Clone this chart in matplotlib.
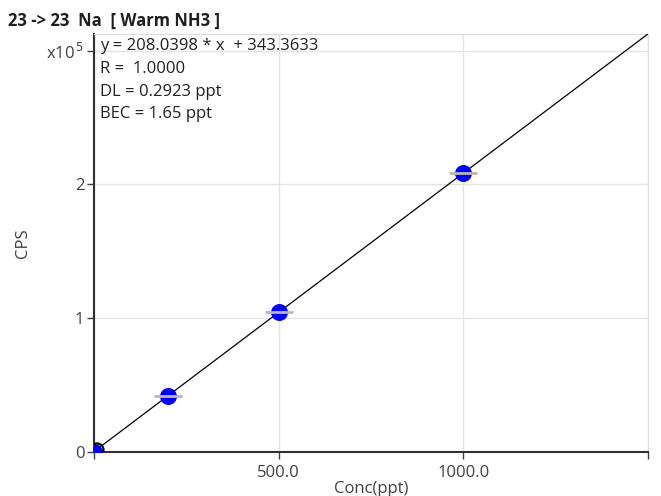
import numpy as np
import matplotlib.pyplot as plt

plt.rcParams['font.family'] = ['Open Sans', 'DejaVu Sans']

# calibration standards (ppt) and counts
conc = [0, 200, 500, 1000]
cps = [343, 41900, 104400, 208400]
slope = 208.0398
intercept = 343.3633
fit_text = ['y = 208.0398 * x  + 343.3633', 'R =  1.0000', 'DL = 0.2923 ppt', 'BEC = 1.65 ppt']
x_ticks = [0, 500, 1000, 1500]
x_ticklabels = ['', '500.0', '1000.0', '']
y_ticks = [0, 1e5, 2e5, 3e5]
y_ticklabels = ['0', '1', '2', 'x10$^{\\,5}$']

fig = plt.figure(figsize=(6.61, 4.96), dpi=100)
ax = fig.add_axes([0.1422, 0.0887, 0.838, 0.8428])

xmax = 1500
ymax = slope * xmax + intercept
ax.set_xlim(0, xmax)
ax.set_ylim(0, ymax)

ax.grid(True, color='#e4e4e4', linewidth=1, zorder=0)
ax.set_axisbelow(True)

xs = np.array([0, xmax])
ax.plot(xs, slope * xs + intercept, color='black', linewidth=0.9, zorder=3)

ax.scatter(conc, cps, s=125, color='#0000ff', zorder=4, clip_on=True)
ax.scatter(conc[1:], cps[1:], marker='_', s=420, color='#b8b8b8', linewidths=2, zorder=5)
ax.scatter([8], [1500], marker='o', s=90, facecolors='none', edgecolors='black',
           linewidths=1.5, zorder=5, clip_on=True)

ax.set_xticks(x_ticks)
ax.set_xticklabels(x_ticklabels)
ax.set_yticks(y_ticks)
ax.set_yticklabels(y_ticklabels)
ax.tick_params(axis='both', length=5, width=1, labelsize=12, colors='#404040')
ax.tick_params(axis='y', pad=2)
ax.tick_params(axis='x', pad=4)

for side in ['left', 'bottom']:
    ax.spines[side].set_color('#303030')
    ax.spines[side].set_linewidth(1.5)
for side in ['top', 'right']:
    ax.spines[side].set_color('#dcdcdc')

ax.set_xlabel('Conc(ppt)', fontsize=12, color='#404040', labelpad=0)
ax.set_ylabel('CPS', fontsize=12, color='#404040', labelpad=11)

ax.text(0.011, 0.99, '\n'.join(fit_text), transform=ax.transAxes, fontsize=12,
        color='#202020', va='top', ha='left', linespacing=1.56, zorder=6)

fig.text(0.012, 0.958, '23 -> 23  Na  [ Warm NH3 ]', fontsize=12, fontweight='bold',
         color='#202020', ha='left', va='center')

fig.savefig('out.png', dpi=100)
